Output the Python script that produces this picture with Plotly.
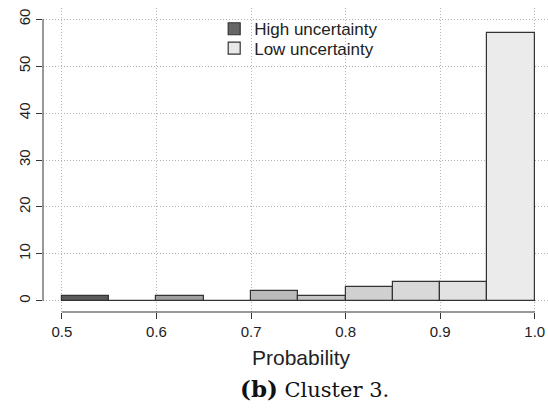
import plotly.graph_objects as go

# Histogram data (bin left edges, width 0.05)
bin_left = [0.50, 0.55, 0.60, 0.65, 0.70, 0.75, 0.80, 0.85, 0.90, 0.95]
counts = [1, 0, 1, 0, 2, 1, 3, 4, 4, 57]
bar_colors = ["#5a5a5a", "#7d7d7d", "#9f9f9f", "#afafaf", "#bababa",
              "#c5c5c5", "#d0d0d0", "#d9d9d9", "#e2e2e2", "#ebebeb"]
bin_width = 0.05

legend_names = ["High uncertainty", "Low uncertainty"]
legend_colors = ["#666666", "#e8e8e8"]

x_ticks = [0.5, 0.6, 0.7, 0.8, 0.9, 1.0]
x_ticklabels = ["0.5", "0.6", "0.7", "0.8", "0.9", "1.0"]
y_ticks = [0, 10, 20, 30, 40, 50, 60]
x_title = "Probability"
caption_label = "(b)"
caption_text = "Cluster 3."

fig = go.Figure()
fig.add_trace(go.Bar(
    x=bin_left, y=counts, width=bin_width, offset=0,
    marker=dict(color=bar_colors, line=dict(color="#333333", width=1.2)),
    showlegend=False, hoverinfo="skip"))

for i, (name, col) in enumerate(zip(legend_names, legend_colors)):
    fig.add_trace(go.Bar(x=[None], y=[None], name=name,
                         legend="legend" if i == 0 else "legend2",
                         marker=dict(color=col, line=dict(color="#333333", width=1.2))))

sans = "Liberation Sans, Arial, sans-serif"
tickfont = dict(family=sans, size=15, color="#222222")
legfont = dict(size=17, family=sans, color="#222222")
fig.update_layout(
    width=548, height=409,
    margin=dict(l=43, r=0, t=8, b=97, autoexpand=False),
    paper_bgcolor="white", plot_bgcolor="white",
    bargap=0,
    font=tickfont,
    xaxis=dict(range=[0.48, 1.014], tickvals=x_ticks, ticktext=x_ticklabels,
               ticks="outside", ticklen=6, tickcolor="#333333", tickwidth=1,
               showline=False, zeroline=False,
               showgrid=True, gridcolor="#b4b4b4", griddash="1px,2px", gridwidth=1,
               tickfont=tickfont),
    yaxis=dict(range=[-2.4, 62.4], tickvals=y_ticks,
               ticks="outside", ticklen=6, tickcolor="#333333", tickwidth=1,
               tickangle=-90,
               showline=False, zeroline=False,
               showgrid=True, gridcolor="#b4b4b4", griddash="1px,2px", gridwidth=1,
               tickfont=tickfont),
    legend=dict(x=0.339, y=0.9895, xanchor="left", yanchor="top",
                bgcolor="rgba(0,0,0,0)", itemwidth=30, font=legfont),
    legend2=dict(x=0.339, y=0.926, xanchor="left", yanchor="top",
                 bgcolor="rgba(0,0,0,0)", itemwidth=30, font=legfont),
    annotations=[
        dict(text=x_title, xref="paper", yref="paper", x=0.511, y=-0.151,
             xanchor="center", yanchor="middle", showarrow=False,
             font=dict(size=21, family=sans, color="#222222")),
        dict(text=f"<b><span style='font-size:23px'>{caption_label}</span></b> {caption_text}",
             xref="paper", yref="paper",
             x=0.5386, y=-0.253, xanchor="center", yanchor="middle",
             showarrow=False,
             font=dict(family="DejaVu Serif, Liberation Serif, serif", size=21, color="#111111"))],
    shapes=[
        dict(type="line", xref="x", yref="paper", x0=x_ticks[0], x1=x_ticks[-1], y0=0, y1=0,
             line=dict(color="#333333", width=1)),
        dict(type="line", xref="paper", yref="y", x0=0, x1=0, y0=y_ticks[0], y1=y_ticks[-1],
             line=dict(color="#333333", width=1)),
    ],
)

fig.write_html("out.html")
